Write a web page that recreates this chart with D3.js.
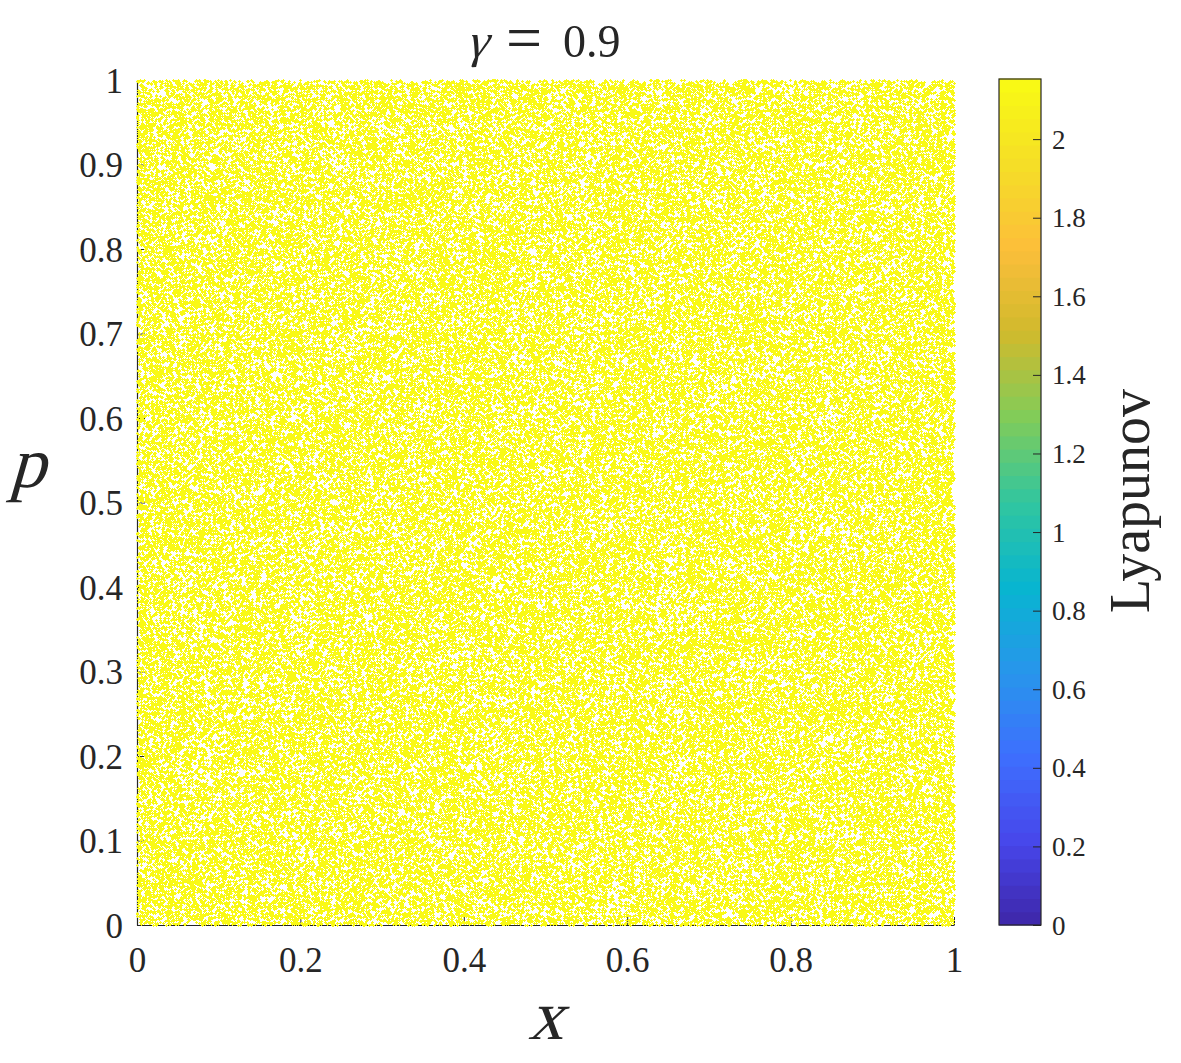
<!DOCTYPE html>
<html>
<head>
<meta charset="utf-8">
<script src="https://cdn.jsdelivr.net/npm/d3@7"></script>
<style>
  html, body { margin: 0; padding: 0; background: #fff; }
  #wrap { position: relative; width: 1181px; height: 1063px; }
  #wrap svg, #wrap canvas { position: absolute; left: 0; top: 0; }
  text { font-family: "Liberation Serif", "Times New Roman", serif; fill: #262626; }
</style>
</head>
<body>
<div id="wrap"></div>
<script>
// ---------------- data ----------------
const gammaValue = "0.9";
const xTicks = [0, 0.2, 0.4, 0.6, 0.8, 1];
const pTicks = [0, 0.1, 0.2, 0.3, 0.4, 0.5, 0.6, 0.7, 0.8, 0.9, 1];
const cbarTicks = [0, 0.2, 0.4, 0.6, 0.8, 1, 1.2, 1.4, 1.6, 1.8, 2];
const cbarDomain = [0, 2.153];
const pointLyapunov = 2.14;           // every orbit point sits near the top of the scale
// chaotic orbit in the (x, p) unit square: kicked map, kick strength K, N iterates
const mapK = 17;
const orbitLength = 150000;
const orbitStart = [0.1234, 0.5678];
// parula anchor colours (colormap definition)
const parulaStops = ["#3e26a8", "#4747eb", "#3e6ffe", "#2796eb", "#08b5d0",
                     "#31c69f", "#81cc59", "#d0ba2d", "#fcbe3a", "#f5de27", "#f9fb14"];

// ---------------- layout ----------------
const W = 1181, H = 1063;
const plot = { left: 137, right: 954, top: 80, bottom: 925 };
const cbar = { left: 999, right: 1041, top: 79, bottom: 925 };
const serif = "'Liberation Serif', 'Times New Roman', Times, serif";

const wrap = d3.select("#wrap");
const svg = wrap.append("svg").attr("width", W).attr("height", H);
const canvas = wrap.append("canvas").attr("width", W).attr("height", H)
  .style("pointer-events", "none");
const svgTop = wrap.append("svg").attr("width", W).attr("height", H)
  .style("pointer-events", "none");

const xScale = d3.scaleLinear().domain([0, 1]).range([plot.left, plot.right]);
const yScale = d3.scaleLinear().domain([0, 1]).range([plot.bottom, plot.top]);

const parula = d3.scaleLinear()
  .domain(parulaStops.map((_, i) => i / (parulaStops.length - 1)))
  .range(parulaStops)
  .interpolate(d3.interpolateRgb);
const colorScale = v => parula(Math.max(0, Math.min(1, (v - cbarDomain[0]) / (cbarDomain[1] - cbarDomain[0]))));

// ---------------- axes ----------------
const axisColor = "#262626";
const gx = svg.append("g").attr("transform", `translate(0,${plot.bottom})`)
  .call(d3.axisBottom(xScale).tickValues(xTicks).tickSizeInner(-8).tickSizeOuter(0)
        .tickFormat(d => d3.format("")(d)));
gx.select(".domain").attr("stroke", axisColor).attr("stroke-width", 1.2);
gx.selectAll(".tick line").attr("stroke", axisColor);
gx.selectAll(".tick text").attr("font-size", 35).attr("y", 47).attr("dy", null)
  .attr("font-family", serif).attr("fill", "#262626");

const gy = svg.append("g").attr("transform", `translate(${plot.left},0)`)
  .call(d3.axisLeft(yScale).tickValues(pTicks).tickSizeInner(-8).tickSizeOuter(0)
        .tickFormat(d => d3.format("")(d)));
gy.select(".domain").attr("stroke", axisColor).attr("stroke-width", 1.2);
gy.selectAll(".tick line").attr("stroke", axisColor);
gy.selectAll(".tick text").attr("font-size", 35).attr("x", -14).attr("dy", 12)
  .attr("font-family", serif).attr("fill", "#262626");

// ---------------- orbit points ----------------
const orbitX = new Float64Array(orbitLength);
const orbitP = new Float64Array(orbitLength);
{
  let x = orbitStart[0], p = orbitStart[1];
  const k = mapK / (2 * Math.PI);
  for (let i = 0; i < orbitLength; i++) {
    p = p + k * Math.sin(2 * Math.PI * x);
    p = p - Math.floor(p);
    x = x + p;
    x = x - Math.floor(x);
    orbitX[i] = x; orbitP[i] = p;
  }
}
const ctx = canvas.node().getContext("2d");
ctx.fillStyle = colorScale(pointLyapunov);
for (let i = 0; i < orbitLength; i++) {
  const cx = Math.round(xScale(orbitX[i])), cy = Math.round(yScale(orbitP[i]));
  ctx.fillRect(cx - 1, cy, 3, 1);
  ctx.fillRect(cx, cy - 1, 1, 3);
}

// ---------------- title & labels ----------------
// slanted serif text (math italic look)
function slanted(sel, x, y, size, str, anchor) {
  return sel.append("text")
    .attr("transform", `translate(${x},${y}) skewX(-16)`)
    .attr("text-anchor", anchor || "start")
    .attr("font-size", size).attr("font-family", serif).text(str);
}
slanted(svgTop, 466, 57, 48, "γ");
svgTop.append("text").attr("x", 506).attr("y", 59).attr("font-size", 64)
  .attr("font-family", serif).text("=");
svgTop.append("text").attr("x", 563).attr("y", 57).attr("font-size", 46)
  .attr("font-family", serif).text(gammaValue);

slanted(svgTop, (plot.left + plot.right) / 2, 1039, 70, "x", "middle");
slanted(svgTop, 27, 487, 72, "p", "middle");

// ---------------- colorbar ----------------
const cbScale = d3.scaleLinear().domain(cbarDomain).range([cbar.bottom, cbar.top]);
const nBands = 64;
const bands = d3.range(nBands);
const bandH = (cbar.bottom - cbar.top) / nBands;
svg.append("g").selectAll("rect").data(bands).join("rect")
  .attr("x", cbar.left).attr("width", cbar.right - cbar.left)
  .attr("y", d => cbar.bottom - (d + 1) * bandH - 0.5)
  .attr("height", bandH + 1)
  .attr("fill", d => parula((d + 0.5) / nBands));
svg.append("rect").attr("x", cbar.left).attr("y", cbar.top)
  .attr("width", cbar.right - cbar.left).attr("height", cbar.bottom - cbar.top)
  .attr("fill", "none").attr("stroke", axisColor).attr("stroke-width", 1.2);
const gc = svg.append("g").attr("transform", `translate(${cbar.right},0)`)
  .call(d3.axisRight(cbScale).tickValues(cbarTicks).tickSizeInner(-8).tickSizeOuter(0)
        .tickFormat(d => d3.format("")(d)));
gc.select(".domain").remove();
gc.selectAll(".tick line").attr("stroke", axisColor);
gc.selectAll(".tick text").attr("font-size", 27).attr("x", 11).attr("dy", 9)
  .attr("font-family", serif).attr("fill", "#262626");

svg.append("text").attr("transform", "translate(1149,501) rotate(-90)")
  .attr("text-anchor", "middle").attr("font-size", 56)
  .attr("font-family", serif).text("Lyapunov");
</script>
</body>
</html>
